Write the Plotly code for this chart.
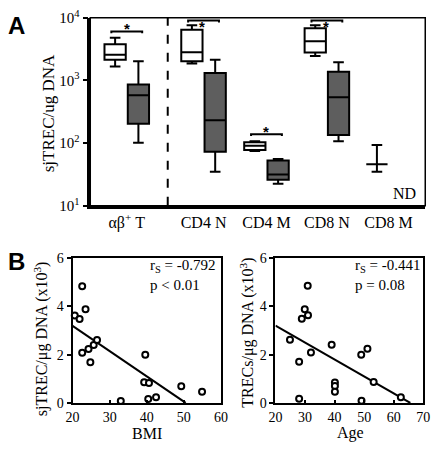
import plotly.graph_objects as go
import numpy as np

# ---------------- Panel A data ----------------
groups = ["αβ<sup>+</sup> T", "CD4 N", "CD4 M", "CD8 N", "CD8 M"]
group_pos = [0.58, 1.80, 2.80, 3.76, 4.74]
off = 0.185

# white (control) boxes
w_q1 = [2140, 2020, 78, 2780]
w_med = [2570, 2820, 91, 4200]
w_q3 = [3770, 6400, 103, 6800]
w_lo = [1670, 1860, 75, 2460]
w_hi = [4800, 7600, 107, 7600]

# grey (obese) boxes
g_q1 = [204, 73, 26, 135]
g_med = [581, 232, 31.6, 538]
g_q3 = [857, 1310, 53, 1370]
g_lo = [101, 35, 22.4, 107]
g_hi = [2020, 2140, 56, 1950]

# CD8 M control: mean with range
cd8m_mid = [46]
cd8m_lo = [35]
cd8m_hi = [93]

# significance brackets (level in data units)
br_y = [6040, 9000, 139, 9000]
br_groups = [0, 1, 2, 3]

# ---------------- Panel B data ----------------
bmi = [20.6, 21.9, 22.6, 23.5, 22.6, 24.3, 24.8, 25.7, 26.6, 33.0, 39.6, 39.3, 40.6, 40.4, 42.5, 49.3, 54.9]
trec_bmi = [3.62, 3.47, 4.83, 3.88, 2.08, 2.23, 1.68, 2.40, 2.60, 0.08, 1.99, 0.86, 0.82, 0.16, 0.24, 0.69, 0.46]
bmi_fit_x = [20, 50.5]
bmi_fit_y = [3.19, 0.0]

age = [24.9, 28.0, 28.0, 28.9, 29.9, 31.0, 30.9, 32.0, 39.0, 40.1, 40.1, 40.1, 49.0, 49.1, 51.1, 53.2, 62.4]
trec_age = [2.61, 1.70, 0.17, 3.48, 3.88, 3.63, 4.85, 2.09, 2.41, 0.85, 0.70, 0.46, 1.99, 0.09, 2.24, 0.87, 0.24]
age_fit_x = [20, 65.6]
age_fit_y = [3.2, 0.0]

W, H = 440, 450
def px(x): return x / W
def py(y): return 1 - y / H

SERIF = "Liberation Serif"
fig = go.Figure()

bw = 0.338
fig.add_trace(go.Box(
    x=[group_pos[i] - off for i in range(4)],
    q1=w_q1, median=w_med, q3=w_q3, lowerfence=w_lo, upperfence=w_hi,
    width=bw, fillcolor="white", line=dict(color="black", width=2),
    whiskerwidth=0.5, boxpoints=False, showlegend=False, xaxis="x", yaxis="y"))
fig.add_trace(go.Box(
    x=[group_pos[i] + off for i in range(4)],
    q1=g_q1, median=g_med, q3=g_q3, lowerfence=g_lo, upperfence=g_hi,
    width=bw, fillcolor="#5e5e5e", line=dict(color="black", width=2),
    whiskerwidth=0.5, boxpoints=False, showlegend=False, xaxis="x", yaxis="y"))
fig.add_trace(go.Box(
    x=[group_pos[4] - off], q1=cd8m_mid, median=cd8m_mid, q3=cd8m_mid,
    lowerfence=cd8m_lo, upperfence=cd8m_hi,
    width=bw, fillcolor="white", line=dict(color="black", width=2),
    whiskerwidth=0.5, boxpoints=False, showlegend=False, xaxis="x", yaxis="y"))

# dashed separator
fig.add_trace(go.Scatter(x=[1.231, 1.231], y=[10, 10000], mode="lines",
                         line=dict(color="black", width=2, dash="dash"),
                         showlegend=False, hoverinfo="skip", xaxis="x", yaxis="y"))

# brackets
for gi, yv in zip(br_groups, br_y):
    x0 = group_pos[gi] - off - 0.06
    x1 = group_pos[gi] + off + 0.06
    drop = 10 ** (-0.03)
    fig.add_trace(go.Scatter(x=[x0, x0, x1, x1], y=[yv * drop, yv, yv, yv * drop],
                             mode="lines", line=dict(color="black", width=2),
                             showlegend=False, hoverinfo="skip", xaxis="x", yaxis="y"))

stars = [(group_pos[0], np.log10(br_y[0]) + 0.04),
         (group_pos[1] - 0.02, np.log10(br_y[1]) - 0.09),
         (group_pos[2], np.log10(br_y[2]) + 0.04),
         (group_pos[3] - 0.02, np.log10(br_y[3]) - 0.09)]

annotations = []
for sx, sy in stars:
    annotations.append(dict(x=sx, y=sy, xref="x", yref="y", text="<b>*</b>", showarrow=False,
                            font=dict(family="Liberation Sans", size=15, color="#000000"),
                            yanchor="middle"))
annotations.append(dict(x=5.2, y=1.2, xref="x", yref="y", text="ND",
                        showarrow=False, xanchor="right",
                        font=dict(family=SERIF, size=16, color="black")))

# Panel B scatters
fig.add_trace(go.Scatter(x=bmi_fit_x, y=bmi_fit_y, mode="lines",
                         line=dict(color="black", width=2), showlegend=False,
                         xaxis="x2", yaxis="y2"))
fig.add_trace(go.Scatter(x=bmi, y=trec_bmi, mode="markers",
                         marker=dict(size=6, color="white", line=dict(color="black", width=2)),
                         showlegend=False, xaxis="x2", yaxis="y2", cliponaxis=False))
fig.add_trace(go.Scatter(x=age_fit_x, y=age_fit_y, mode="lines",
                         line=dict(color="black", width=2), showlegend=False,
                         xaxis="x3", yaxis="y3"))
fig.add_trace(go.Scatter(x=age, y=trec_age, mode="markers",
                         marker=dict(size=6, color="white", line=dict(color="black", width=2)),
                         showlegend=False, xaxis="x3", yaxis="y3", cliponaxis=False))

tickfont = dict(family=SERIF, size=15, color="black")
tickfont_b = dict(family=SERIF, size=14, color="black")

def txt(x, y, t, size=16, angle=0, xa="center", ya="middle", fam=SERIF):
    annotations.append(dict(x=px(x), y=py(y), xref="paper", yref="paper", text=t,
                            showarrow=False, textangle=angle, xanchor=xa, yanchor=ya,
                            font=dict(family=fam, size=size, color="black")))

txt(43, 108, "sjTREC/ug DNA", size=17, angle=-90)
txt(35, 342, "sjTREC/μg DNA (x10<sup>3</sup>)", size=16, angle=-90)
txt(248, 336, "TRECs/μg DNA (x10<sup>3</sup>)", size=16, angle=-90)
txt(145, 441, "BMI", size=16)
txt(355, 441, "Age", size=16)
txt(146, 267, "r<sub>S</sub> = -0.792", size=15, xa="left")
txt(146, 286, "p < 0.01", size=15, xa="left")
txt(357, 267, "r<sub>S</sub> = -0.441", size=15, xa="left")
txt(357, 286, "p = 0.08", size=15, xa="left")
txt(-1, 16, "<b>A</b>", size=24, xa="left", fam="Liberation Sans")
txt(-1, 262, "<b>B</b>", size=24, xa="left", fam="Liberation Sans")

xb_common = dict(showgrid=False, zeroline=False, showline=True, mirror=True,
                 linecolor="black", linewidth=2, ticks="inside", ticklen=3,
                 tickwidth=2, tickcolor="black", tickfont=tickfont_b)
yb_common = dict(showgrid=False, zeroline=False, showline=True, mirror=True,
                 linecolor="black", linewidth=2, ticks="outside", ticklen=4,
                 tickwidth=2, tickcolor="black", tickfont=tickfont_b)

fig.update_layout(
    width=W, height=H, margin=dict(l=0, r=0, t=0, b=0),
    paper_bgcolor="white", plot_bgcolor="white",
    annotations=annotations,
    shapes=[dict(type="rect", xref="paper", yref="paper",
                 x0=px(86), x1=px(432), y0=py(204), y1=py(8),
                 line=dict(color="black", width=1.5))],
    xaxis=dict(domain=[px(86), px(432)], range=[0, 346 / 65], showgrid=False, zeroline=False,
               showline=True, linecolor="black", linewidth=2.5, ticks="",
               tickvals=group_pos, ticktext=groups, tickfont=dict(family=SERIF, size=16, color="black"),
               anchor="y"),
    yaxis=dict(domain=[py(204), py(8)], type="log", range=[1, 4], showgrid=False,
               zeroline=False, showline=True, linecolor="black", linewidth=2.5,
               ticks="outside", ticklen=5, tickwidth=2, tickcolor="black",
               tickvals=[10, 100, 1000, 10000],
               ticktext=["10<sup>1</sup>", "10<sup>2</sup>", "10<sup>3</sup>", "10<sup>4</sup>"],
               tickfont=tickfont, anchor="x"),
    xaxis2=dict(domain=[px(67.7), px(221)], range=[20, 60],
                tickvals=[20, 30, 40, 50, 60], anchor="y2", **xb_common),
    yaxis2=dict(domain=[py(409.3), py(258.3)], range=[0, 6],
                tickvals=[0, 2, 4, 6], anchor="x2", **yb_common),
    xaxis3=dict(domain=[px(277.3), px(430)], range=[20, 70],
                tickvals=[20, 30, 40, 50, 60, 70], anchor="y3", **xb_common),
    yaxis3=dict(domain=[py(409.3), py(258.3)], range=[0, 6],
                tickvals=[0, 2, 4, 6], anchor="x3", **yb_common),
)

fig.write_html("out.html", config={"displayModeBar": False},
               post_script="document.body.style.margin='0';document.body.style.padding='0';")
